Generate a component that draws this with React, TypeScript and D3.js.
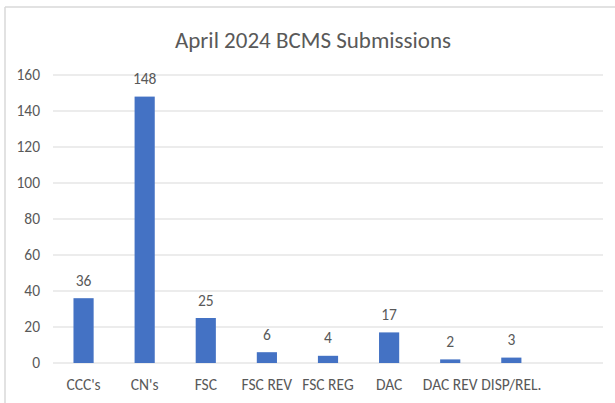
import React from "react";
import * as d3 from "d3";

const categories = ["CCC's", "CN's", "FSC", "FSC REV", "FSC REG", "DAC", "DAC REV", "DISP/REL.", ""];
const submissions = [36, 148, 25, 6, 4, 17, 2, 3, null];
const yTicks = [0, 20, 40, 60, 80, 100, 120, 140, 160];
const title = "April 2024 BCMS Submissions";

const W = 615;
const H = 403;
const font = "Carlito, Calibri, Lato, sans-serif";
const textColor = "#595959";
const labelSize = 15.5;

export default function App() {
  const x = d3.scaleBand<string>()
    .domain(categories)
    .range([53, 603])
    .paddingInner(0.67)
    .paddingOuter(0.335);
  const y = d3.scaleLinear().domain([0, 160]).range([363, 75]);

  return (
    <svg width={W} height={H} style={{ position: "absolute", left: 0, top: 0, background: "#fff" }}>
      {/* chart frame */}
      <line x1={5} x2={W} y1={7} y2={7} stroke="#d9d9d9" strokeWidth={1.5} />
      <line x1={5} x2={5} y1={7} y2={H} stroke="#d9d9d9" strokeWidth={1.5} />

      <text x={313} y={48} textAnchor="middle" fontFamily={font} fontSize={23} fill={textColor}>
        {title}
      </text>

      {/* grid + y axis labels */}
      {yTicks.map((t) => (
        <g key={t}>
          <line x1={53} x2={603} y1={y(t)} y2={y(t)} stroke="#d9d9d9" strokeWidth={1.2} />
          <text x={40} y={y(t)} dy="0.35em" textAnchor="end" fontFamily={font} fontSize={labelSize} fill={textColor}>
            {t}
          </text>
        </g>
      ))}

      {/* bars */}
      {categories.map((c, i) => {
        const v = submissions[i];
        if (v == null) return null;
        const bx = x(c)!;
        return (
          <g key={c}>
            <rect x={bx} y={y(v)} width={x.bandwidth()} height={y(0) - y(v)} fill="#4472C4" />
            <text x={bx + x.bandwidth() / 2} y={y(v) - 12.5} textAnchor="middle" fontFamily={font} fontSize={labelSize} fill={textColor}>
              {v}
            </text>
          </g>
        );
      })}

      {/* category labels */}
      {categories.map((c) => (
        <text key={"l" + c} x={x(c)! + x.bandwidth() / 2} y={389.5} textAnchor="middle" fontFamily={font} fontSize={labelSize} fill={textColor}>
          {c}
        </text>
      ))}
    </svg>
  );
}
